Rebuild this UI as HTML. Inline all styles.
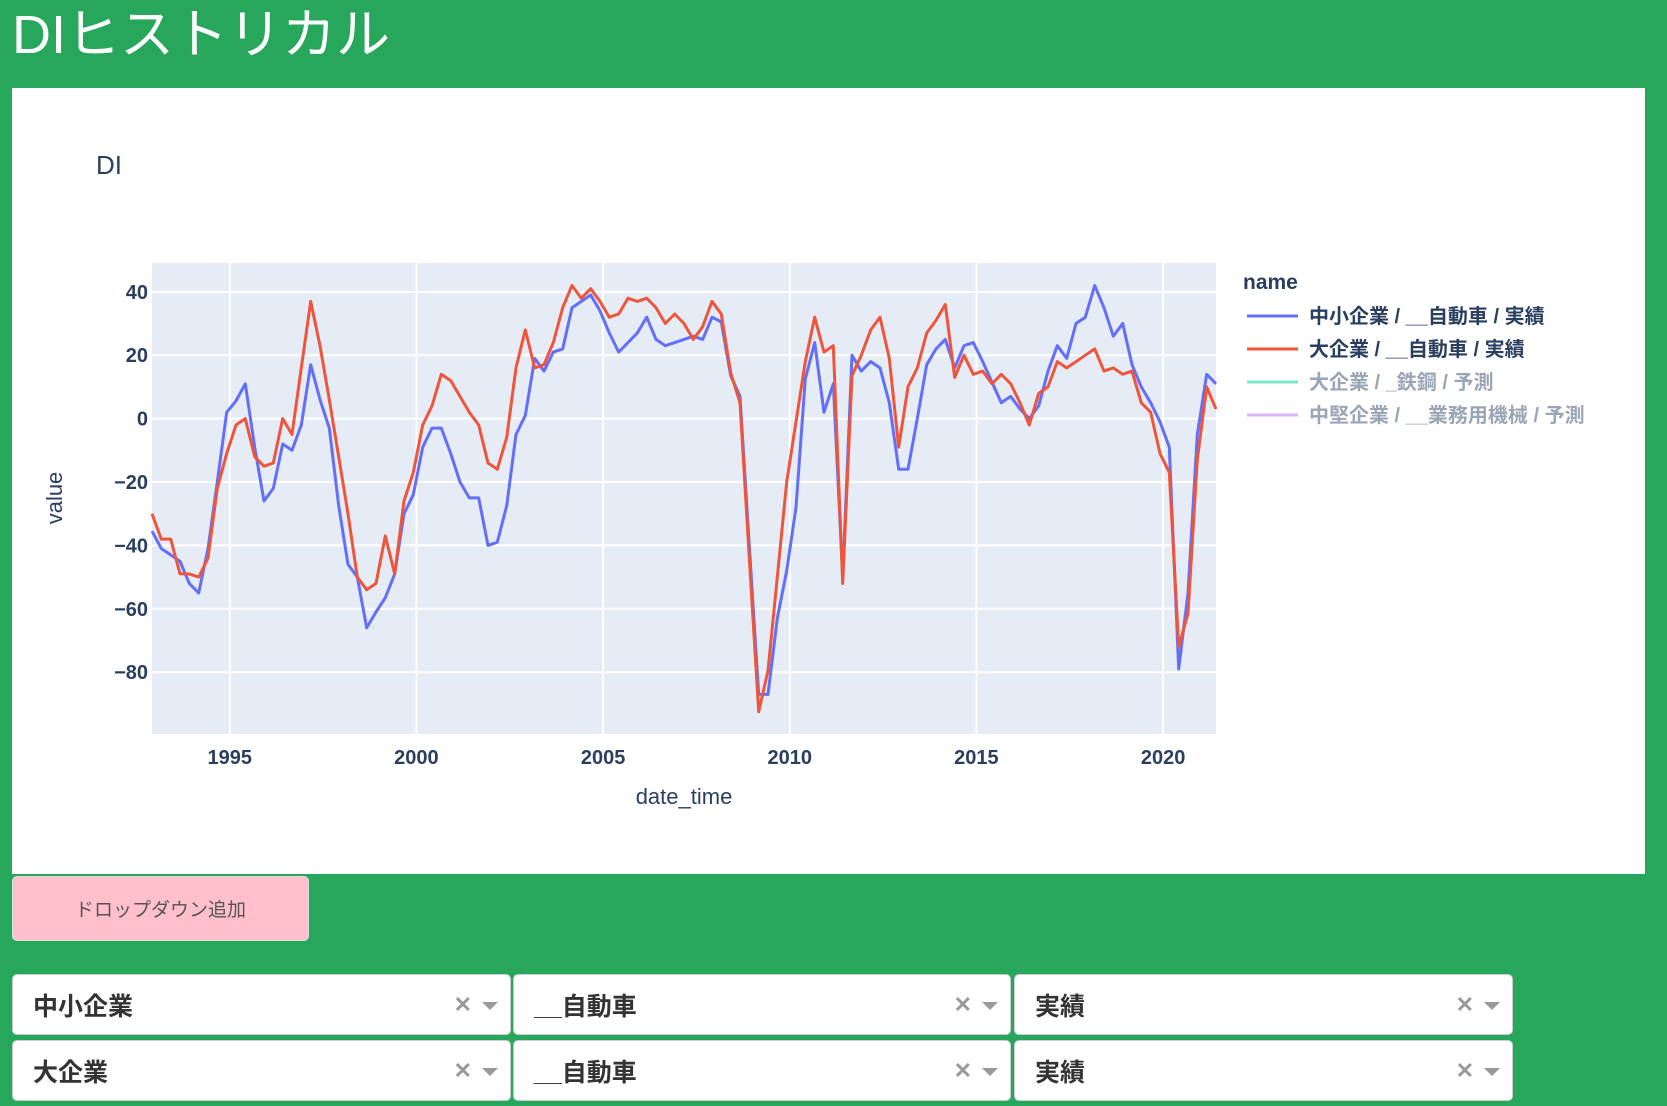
<!DOCTYPE html>
<html><head><meta charset="utf-8">
<style>
body{margin:0;width:1667px;height:1106px;background:#26a75c;overflow:hidden;font-family:"Liberation Sans","Noto Sans CJK JP",sans-serif;position:relative}
#title{position:absolute;left:12px;top:-10px;color:#fff;font-size:54px;margin:0;font-weight:normal;white-space:nowrap}
#panel{position:absolute;left:12px;top:88px;width:1633px;height:786px;background:#fff}
#btn{position:absolute;left:12px;top:876px;width:297px;height:65px;background:#ffc0cb;border-radius:5px;border:1px solid #ddd;box-sizing:border-box;color:#555;font-size:19px;display:flex;align-items:center;justify-content:center}
.dd{position:absolute;height:61px;background:#fff;border:1px solid #ccc;border-radius:5px;box-sizing:border-box;font-weight:bold;font-size:25px;color:#333;display:flex;align-items:center;padding-left:20px}
.dd .x{position:absolute;right:38px;color:#999;font-size:22px}
.dd .a{position:absolute;right:12px;width:0;height:0;border-left:8px solid transparent;border-right:8px solid transparent;border-top:8px solid #999;top:27px}
</style></head><body>
<h1 id="title">DIヒストリカル</h1>
<div id="panel">
<svg id="chart" width="1633" height="786" style="position:absolute;left:0;top:0"></svg>
</div>
<div id="btn">ドロップダウン追加</div>
<div class="dd" style="left:12px;top:974px;width:499px">中小企業<span class="x">✕</span><span class="a"></span></div>
<div class="dd" style="left:513px;top:974px;width:498px">__自動車<span class="x">✕</span><span class="a"></span></div>
<div class="dd" style="left:1014px;top:974px;width:499px">実績<span class="x">✕</span><span class="a"></span></div>
<div class="dd" style="left:12px;top:1040px;width:499px">大企業<span class="x">✕</span><span class="a"></span></div>
<div class="dd" style="left:513px;top:1040px;width:498px">__自動車<span class="x">✕</span><span class="a"></span></div>
<div class="dd" style="left:1014px;top:1040px;width:499px">実績<span class="x">✕</span><span class="a"></span></div>
<script>
const startYear = 1992.917;
const stepYears = 0.25;
const smallAuto = [-35.5,-41,-43,-45,-52,-55,-41,-20,2,5.6,11,-9,-26,-22,-8,-10,-2,17,6,-3,-27.5,-46,-50,-66,-61,-56.5,-49,-30,-24,-9,-3,-3,-11,-20,-25,-25,-40,-39,-27.5,-5,1,19,15,21,22,35,37,39,34,27,21,24,27,32,25,23,24,25,26,
25,32,30.5,13.5,7,-40,-87,-87,-63,-48,-28,12.5,24,2,11,-50,20,15,18,16,5,-16,-16,0,17,22,25,16,23,24,18,11.5,5,7,3,0,4,15,23,19,30,32,42,35,26,30,17,10,5,-1,-9,-79,-55,-5,14,11];
const largeAuto = [-30,-38,-38,-49,-49,-50,-44,-22,-11,-2,0,-12,-15,-14,0,-5,16,37,23,6,-12,-30,-50,-54,-52,-37,-49,-26,-17,-2,4,14,12,7,2,-2,-14,-16,-6,16,28,16,17,24,35,42,38,41,37,32,33,38,37,38,35,30,33,30,25,
29,37,33,14.5,5,-44,-92.5,-79.5,-50,-20,-1,18,32,21,23,-52,13.5,20,28,32,19,-9,10,16,27,31,36,13,20,14,15,11,14,11,5,-2,8,10,18,16,18,20,22,15,16,14,15,5,2,-11,-17,-72,-61.5,-13,10,3];
const yTicks = [40,20,0,-20,-40,-60,-80];
const xTicks = [1995,2000,2005,2010,2015,2020];
const legendNames = ["中小企業 / __自動車 / 実績","大企業 / __自動車 / 実績","大企業 / _鉄鋼 / 予測","中堅企業 / __業務用機械 / 予測"];

const NS="http://www.w3.org/2000/svg";
const svg=document.getElementById('chart');
const PL=140,PR=1204,PT=175,PB=646; // within panel
const xMin=startYear, xMax=startYear+stepYears*(smallAuto.length-1);
const yMin=-99.5,yMax=49.1;
const xs=t=>PL+(t-xMin)/(xMax-xMin)*(PR-PL);
const ys=v=>PB-(v-yMin)/(yMax-yMin)*(PB-PT);
function mk(tag,attrs,parent){const e=document.createElementNS(NS,tag);for(const k in attrs)e.setAttribute(k,attrs[k]);(parent||svg).appendChild(e);return e;}
const bg=mk('rect',{x:PL,y:PT,width:PR-PL,height:PB-PT,fill:'#e5ecf6'});


xTicks.forEach(t=>{
  const g=mk('line',{x1:xs(t),x2:xs(t),y1:PT,y2:PB,stroke:'#fff','stroke-width':2});
  
  
  const l=mk('text',{x:xs(t),y:PB+30,'text-anchor':'middle','font-size':20,'font-weight':'bold',fill:'#2a3f5f'});
  l.textContent=t;
  
  
});
yTicks.forEach(v=>{
  const g=mk('line',{x1:PL,x2:PR,y1:ys(v),y2:ys(v),stroke:'#fff','stroke-width':2});
  
  
  const l=mk('text',{x:PL-4,y:ys(v)+7,'text-anchor':'end','font-size':20,'font-weight':'bold',fill:'#2a3f5f'});
  l.textContent=(v<0?'\u2212'+(-v):v);
  
  
});
function series(vals,color,name){
  const pts=vals.map((v,i)=>xs(startYear+i*stepYears).toFixed(1)+','+ys(v).toFixed(1)).join(' ');
  const p=mk('polyline',{points:pts,fill:'none',stroke:color,'stroke-width':3,'stroke-linejoin':'round'});
  
  
}
series(smallAuto,'#636efa','line-small-auto-actual');
series(largeAuto,'#ef553b','line-large-auto-actual');
let t=mk('text',{x:84,y:86,'font-size':26,fill:'#2a3f5f'});t.textContent='DI';


t=mk('text',{x:672,y:716,'text-anchor':'middle','font-size':22,fill:'#2a3f5f'});t.textContent='date_time';


t=mk('text',{x:0,y:0,'text-anchor':'middle','font-size':22,fill:'#2a3f5f',transform:'translate(50,410) rotate(-90)'});t.textContent='value';


t=mk('text',{x:1231,y:201,'font-size':21,'font-weight':'bold',fill:'#2a3f5f'});t.textContent='name';


const lc=['#636efa','#ef553b','#7ee8c9','#d7b8fa'];
legendNames.forEach((n,i)=>{
  const y=228+i*33;
  const g=mk('g',{});
  
  
  mk('line',{x1:1235,x2:1286,y1:y,y2:y,stroke:lc[i],'stroke-width':3},g);
  const tx=mk('text',{x:1297,y:y+7,'font-size':20,'font-weight':'bold',fill:i<2?'#2a3f5f':'#9aa5b5','font-family':'"Liberation Sans","Noto Sans CJK JP",sans-serif'},g);
  tx.textContent=n;
});
</script>
</body></html>
